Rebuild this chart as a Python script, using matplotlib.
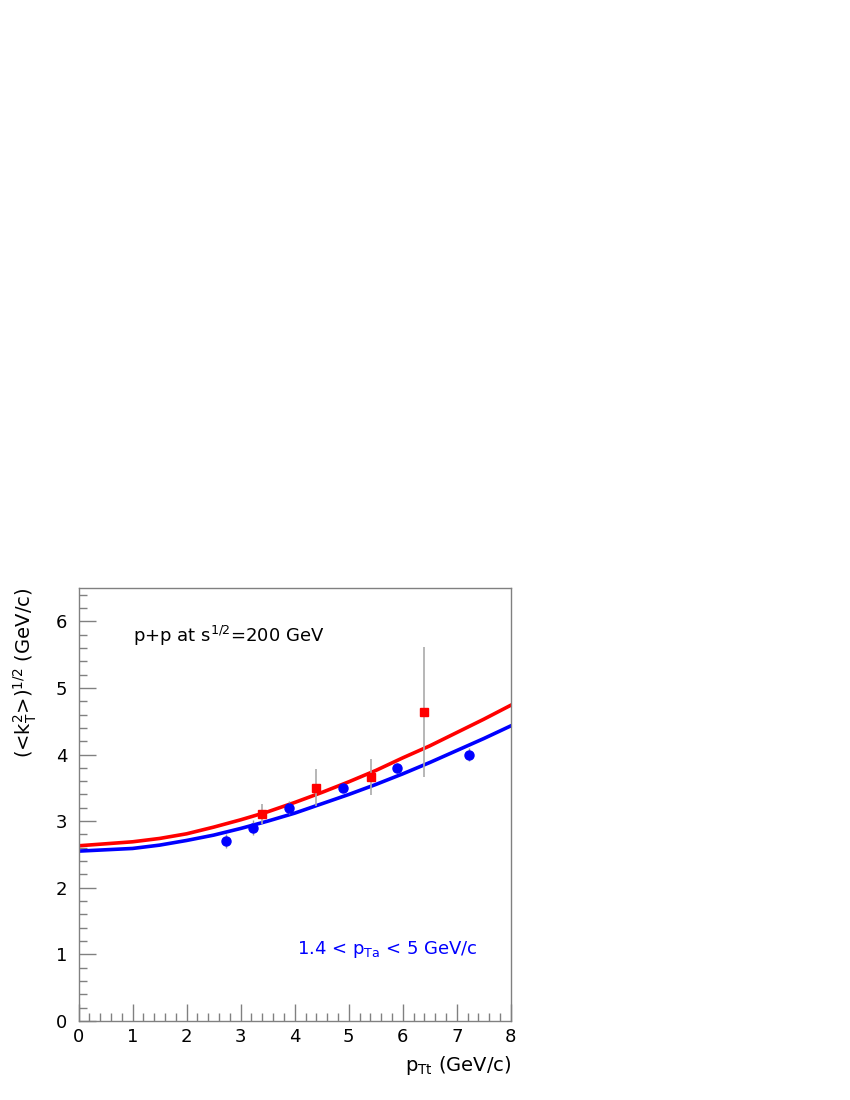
import numpy as np
import matplotlib
matplotlib.use("Agg")
import matplotlib.pyplot as plt
from matplotlib.ticker import MultipleLocator

# data points
pt_blue = [2.73, 3.22, 3.89, 4.89, 5.90, 7.22]
kt_blue = [2.70, 2.90, 3.20, 3.50, 3.80, 4.00]
err_blue = [0.10, 0.11, 0.10, 0.07, 0.07, 0.10]

pt_red = [3.39, 4.39, 5.41, 6.40]
kt_red = [3.11, 3.50, 3.66, 4.64]
err_red = [0.15, 0.28, 0.27, 0.97]

# theory curves, sampled every 0.5 GeV/c
curve_x = [0.0, 0.5, 1.0, 1.5, 2.0, 2.5, 3.0, 3.5, 4.0, 4.5, 5.0, 5.5, 6.0, 6.5, 7.0, 7.5, 8.0]
curve_red = [2.63, 2.66, 2.69, 2.74, 2.81, 2.91, 3.02, 3.14, 3.28, 3.43, 3.59, 3.76, 3.95, 4.13, 4.33, 4.53, 4.74]
curve_blue = [2.55, 2.57, 2.59, 2.64, 2.71, 2.79, 2.89, 3.00, 3.12, 3.26, 3.40, 3.55, 3.71, 3.88, 4.06, 4.24, 4.43]

grey = '#808080'
plt.rcParams['font.family'] = ['DejaVu Sans']

fig = plt.figure(figsize=(8.5, 11), dpi=100)
ax = fig.add_axes([0.0924, 0.0718, 0.5086, 0.3937])

ax.plot(curve_x, curve_red, color='#ff0000', lw=2.6, zorder=2)
ax.plot(curve_x, curve_blue, color='#0000ff', lw=2.6, zorder=2)

ax.errorbar(pt_blue, kt_blue, yerr=err_blue, fmt='o', color='#0000ff', ms=6.5,
            ecolor='#999999', elinewidth=1.0, capsize=0, zorder=3)
ax.errorbar(pt_red, kt_red, yerr=err_red, fmt='s', color='#ff0000', ms=6,
            ecolor='#aaaaaa', elinewidth=1.2, capsize=0, zorder=3)

ax.set_xlim(0, 8)
ax.set_ylim(0, 6.5)
ax.xaxis.set_major_locator(MultipleLocator(1))
ax.xaxis.set_minor_locator(MultipleLocator(0.2))
ax.yaxis.set_major_locator(MultipleLocator(1))
ax.yaxis.set_minor_locator(MultipleLocator(0.2))
ax.tick_params(which='both', direction='in', color=grey, top=False, right=False,
               labelsize=13, width=1)
ax.tick_params(which='major', length=12)
ax.tick_params(axis='x', which='major', pad=5)
ax.tick_params(axis='y', which='major', pad=8)
ax.tick_params(which='minor', length=6)
for s in ax.spines.values():
    s.set_color(grey)
    s.set_linewidth(1)

ax.text(1.0, 5.78, r'p+p at s$^{1/2}$=200 GeV', fontsize=13, va='center', ha='left')
ax.text(4.04, 1.08, r'1.4 < p$_{\mathrm{Ta}}$ < 5 GeV/c', fontsize=13, va='center',
        ha='left', color='#0000ff')

ax.set_xlabel(r'p$_{\mathrm{Tt}}$ (GeV/c)', fontsize=14, loc='right', labelpad=6)
ax.set_ylabel(r'(<k$_{\mathrm{T}}^{2}$>)$^{1/2}$ (GeV/c)', fontsize=14, loc='top', labelpad=12)

fig.savefig('out.png', dpi=100)
